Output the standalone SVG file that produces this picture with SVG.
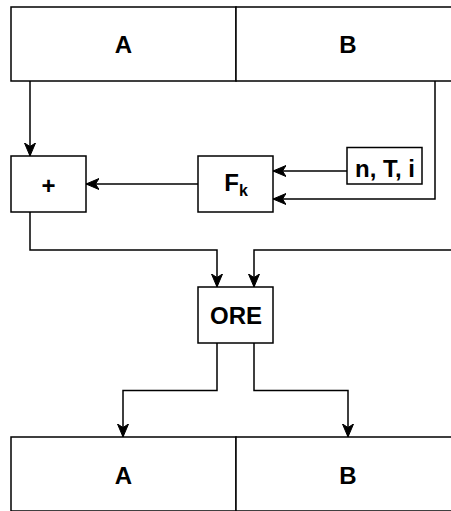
<svg xmlns="http://www.w3.org/2000/svg" width="451" height="511" viewBox="0 0 451 511">
  <style>
    .box { fill: #ffffff; stroke: #000000; stroke-width: 1.5; }
    .lbl { font-family: "Liberation Sans", Arial, Helvetica, sans-serif; font-weight: bold; font-size: 24px; fill: #000000; text-anchor: middle; }
    .sub { font-size: 16px; }
    .edge { fill: none; stroke: #000000; stroke-width: 1.5; }
  </style>
  <defs>
    <marker id="arrow" markerUnits="userSpaceOnUse" markerWidth="14" markerHeight="12" refX="13" refY="6" orient="auto" viewBox="0 0 14 12">
      <path d="M0,0.5 L13,6 L0,11.5 L3.5,6 Z" fill="#000000" stroke="#000000" stroke-width="1"/>
    </marker>
  </defs>
  <rect x="0" y="0" width="451" height="511" fill="#ffffff"/>

  <g id="top-A">
    <rect class="box" x="11" y="7" width="225" height="74"/>
    <text class="lbl" x="123.5" y="52.5">A</text>
  </g>
  <g id="top-B">
    <rect class="box" x="236" y="7" width="240" height="74"/>
    <text class="lbl" x="348" y="52.5">B</text>
  </g>

  <g id="plus">
    <rect class="box" x="11" y="156" width="75" height="56"/>
    <text class="lbl" x="48.5" y="194">+</text>
  </g>
  <g id="Fk">
    <rect class="box" x="198" y="156" width="75" height="56"/>
    <text class="lbl" x="236" y="190.5">F<tspan class="sub" dy="5.5">k</tspan></text>
  </g>
  <g id="nTi">
    <rect class="box" x="347" y="147.5" width="75" height="36.5"/>
    <text class="lbl" x="385" y="176.5">n, T, i</text>
  </g>
  <g id="ORE">
    <rect class="box" x="198" y="287" width="75" height="56"/>
    <text class="lbl" x="236" y="323.5">ORE</text>
  </g>

  <g id="bottom-A">
    <rect class="box" x="11" y="437" width="225" height="74"/>
    <text class="lbl" x="123.5" y="483.5">A</text>
  </g>
  <g id="bottom-B">
    <rect class="box" x="236" y="437" width="240" height="74"/>
    <text class="lbl" x="348" y="483.5">B</text>
  </g>

  <g id="connectors">
    <path class="edge" d="M30,81 V156" marker-end="url(#arrow)"/>
    <path class="edge" d="M435,81 V199 H273" marker-end="url(#arrow)"/>
    <path class="edge" d="M347,171 H273" marker-end="url(#arrow)"/>
    <path class="edge" d="M198,184 H86" marker-end="url(#arrow)"/>
    <path class="edge" d="M30,212 V250 H217 V287" marker-end="url(#arrow)"/>
    <path class="edge" d="M470,250 H254 V287" marker-end="url(#arrow)"/>
    <path class="edge" d="M217,343 V390.5 H123 V437" marker-end="url(#arrow)"/>
    <path class="edge" d="M254,343 V390.5 H348 V437" marker-end="url(#arrow)"/>
  </g>
</svg>
